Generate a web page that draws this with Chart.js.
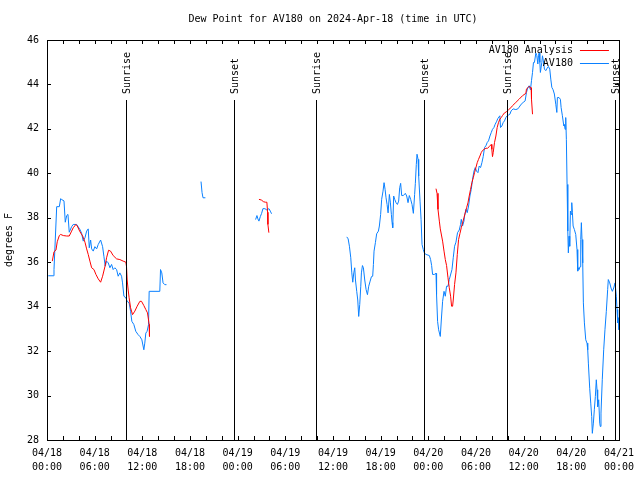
<!DOCTYPE html>
<html>
<head>
<meta charset="utf-8">
<script src="https://cdn.jsdelivr.net/npm/chart.js@4"></script>
<style>
html,body{margin:0;padding:0;background:#fff;}
#c{display:block;}
</style>
</head>
<body>
<canvas id="c" width="640" height="480"></canvas>
<script>
// ---- data (hours since 2024-04-18 00:00 UTC, dew point in °F) ----
const chartTitle = 'Dew Point for AV180 on 2024-Apr-18 (time in UTC)';
const yTitle = 'degrees F';
const xTickLabels = [
  ['04/18','00:00'],['04/18','06:00'],['04/18','12:00'],['04/18','18:00'],
  ['04/19','00:00'],['04/19','06:00'],['04/19','12:00'],['04/19','18:00'],
  ['04/20','00:00'],['04/20','06:00'],['04/20','12:00'],['04/20','18:00'],
  ['04/21','00:00']
];
const eventNames = ['Sunrise','Sunset','Sunrise','Sunset','Sunrise','Sunset'];
const eventHours = [9.93, 23.5, 33.89, 47.52, 57.95, 71.5];

const seriesNames = ['AV180 Analysis', 'AV180'];

const analysisTime = [
  0.67,0.88,1.13,1.29,1.55,1.72,2.05,2.48,2.8,3.1,3.3,3.64,3.81,4.15,4.49,4.78,4.99,5.19,5.4,5.62,
  5.91,6.16,6.45,6.75,7.0,7.29,7.5,7.75,8.0,8.33,8.76,9.17,9.59,9.93,10.01,10.09,10.22,10.34,10.52,10.77,
  11.06,11.35,11.69,11.9,12.19,12.44,12.65,12.86,12.9,
  20,
  26.68,26.98,27.27,27.52,27.68,27.77,27.81,27.93,
  40,
  48.97,49.1,49.22,49.39,49.51,49.8,49.98,50.14,50.3,50.48,50.64,50.81,50.93,51.06,51.14,51.31,51.48,51.65,51.81,51.99,
  52.15,52.31,52.49,52.65,52.82,52.99,53.15,53.32,53.49,53.66,53.82,53.99,54.16,54.32,54.5,54.66,54.83,55.04,55.25,55.46,
  55.67,55.92,56.0,56.08,56.17,56.33,56.51,56.67,56.84,57.01,57.18,57.34,57.59,57.84,58.09,58.39,58.59,59.02,59.44,59.85,
  60.28,60.36,60.69,60.95,60.99,61.12
];
const analysisDew = [
  36.05,36.47,36.55,36.92,37.2,37.25,37.2,37.18,37.18,37.4,37.55,37.7,37.63,37.37,37.18,36.9,36.6,36.35,36.05,35.75,
  35.67,35.45,35.25,35.1,35.37,35.8,36.2,36.54,36.5,36.3,36.15,36.12,36.05,36.0,35.8,35.2,34.75,34.4,33.95,33.64,
  33.8,34.02,34.24,34.24,34.05,33.87,33.72,33.2,32.66,
  null,
  38.83,38.8,38.72,38.7,38.7,38.25,37.7,37.33,
  null,
  39.31,39.1,38.38,37.85,37.5,36.95,36.5,36.12,35.85,35.3,34.85,34.47,34.02,34.02,34.3,35.0,35.52,36.35,37.02,37.3,
  37.55,37.77,38.0,38.22,38.45,38.67,38.98,39.28,39.58,39.8,40.03,40.25,40.48,40.63,40.78,40.93,41.03,41.08,41.13,41.13,
  41.2,41.3,41.08,40.75,40.93,41.38,41.68,42.06,42.29,42.44,42.51,42.6,42.72,42.77,42.86,42.95,43.04,43.19,43.34,43.49,
  43.6,43.79,43.91,43.85,43.34,42.66
];

const obsTime = [
  0.16,0.79,0.88,1.22,1.55,1.72,1.85,2.14,2.3,2.48,2.64,2.8,3.1,3.3,3.73,4.15,4.36,4.56,4.78,4.99,
  5.19,5.32,5.49,5.62,5.82,6.03,6.25,6.45,6.75,7.0,7.16,7.33,7.5,7.71,7.92,8.13,8.33,8.54,8.76,8.96,
  9.17,9.39,9.51,9.68,9.93,10.09,10.34,10.52,10.68,10.93,11.18,11.47,11.69,11.94,12.19,12.31,12.44,12.6,12.78,12.86,
  14.2,14.29,14.45,14.61,14.83,15.04,
  17,
  19.39,19.52,19.64,19.94,
  23,
  26.26,26.43,26.55,26.68,26.85,27.02,27.18,27.43,27.68,27.94,28.11,28.27,
  33,
  37.74,37.91,38.07,38.24,38.37,38.49,38.62,38.74,38.83,38.99,39.12,39.24,39.37,39.5,39.58,39.71,39.83,40.0,40.17,40.34,
  40.5,40.68,40.84,41.0,41.09,41.17,41.34,41.5,41.72,41.84,42.0,42.13,42.3,42.43,42.56,42.68,42.81,42.94,43.1,43.23,
  43.35,43.44,43.52,43.64,43.77,43.94,44.11,44.27,44.4,44.52,44.65,44.86,45.11,45.28,45.45,45.61,45.78,45.95,46.12,46.28,
  46.37,46.49,46.58,46.71,46.79,46.96,47.09,47.21,47.37,47.5,47.71,48.13,48.29,48.42,48.54,48.76,48.97,49.04,49.17,49.3,
  49.51,49.64,49.8,49.98,50.14,50.3,50.48,50.64,50.98,51.14,51.31,51.48,51.68,51.9,52.06,52.15,52.31,52.49,52.56,52.74,
  52.9,53.07,53.24,53.41,53.57,53.75,53.91,54.07,54.25,54.41,54.58,54.75,54.91,55.08,55.25,55.42,55.58,55.76,55.92,56.08,
  56.26,56.42,56.58,56.76,57.01,57.09,57.26,57.42,57.59,57.76,57.93,58.09,58.27,58.43,58.68,59.02,59.27,59.44,59.69,59.94,
  60.19,60.36,60.53,60.69,60.86,60.99,61.12,61.24,61.36,61.54,61.66,61.79,61.87,61.95,62.04,62.11,62.29,62.37,62.49,62.62,
  62.79,62.96,63.12,63.29,63.42,63.55,63.71,63.87,64.05,64.18,64.25,64.46,64.63,64.72,64.88,65.06,65.13,65.22,65.3,65.38,
  65.47,65.56,65.63,65.72,65.8,65.89,65.97,66.06,66.14,66.23,66.39,66.56,66.72,66.81,66.89,66.98,67.1,67.19,67.27,67.35,
  67.44,67.52,67.65,67.82,67.98,68.07,68.15,68.32,68.45,68.57,68.65,68.78,68.9,69.03,69.15,69.24,69.32,69.45,69.58,69.65,
  69.74,69.9,70.08,70.24,70.41,70.58,70.66,70.84,71.0,71.17,71.34,71.51,71.67,71.76,71.84,71.92,72.0
];
const obsDew = [
  35.39,35.39,35.67,38.5,38.5,38.86,38.82,38.76,37.8,38.1,38.15,37.35,37.6,37.7,37.7,37.47,37.3,36.95,37.1,37.4,
  37.5,36.65,37.0,36.6,36.5,36.7,36.6,36.8,37.0,36.7,36.27,35.82,36.05,35.97,35.75,35.9,35.67,35.75,35.67,35.37,
  35.52,35.37,35.07,34.47,34.4,34.24,34.17,33.79,33.34,33.2,32.89,32.74,32.66,32.51,32.06,32.36,32.81,32.89,33.19,34.69,
  34.69,35.67,35.52,35.07,34.99,34.99,
  null,
  39.63,39.13,38.9,38.9,
  null,
  37.92,38.1,37.95,37.85,38.05,38.2,38.41,38.41,38.35,38.41,38.3,38.18,
  null,
  37.14,37.05,36.72,36.2,35.52,35.1,35.52,35.75,35.2,34.69,34.3,33.56,34.1,34.92,35.52,35.85,35.75,35.2,34.77,34.54,
  34.92,35.15,35.35,35.37,35.9,36.5,36.88,37.28,37.4,37.63,38.15,38.83,39.2,39.58,39.28,38.9,38.6,38.22,39.05,38.67,
  38.15,37.78,37.55,38.98,38.83,38.68,38.6,38.75,39.35,39.55,39.0,39.0,39.1,38.98,38.68,39.0,38.83,38.6,38.2,39.05,
  39.55,40.4,40.86,40.63,39.88,38.75,37.93,36.8,36.57,36.42,36.35,36.3,36.12,35.85,35.45,35.45,35.5,34.54,33.34,32.96,
  32.66,33.4,34.24,34.69,34.47,34.92,34.92,35.22,35.67,36.2,36.72,36.9,37.33,37.45,37.7,37.93,37.63,37.85,38.08,38.38,
  38.23,38.53,38.98,39.28,39.73,40.1,40.26,40.1,40.03,40.33,40.26,40.48,40.75,41.16,41.24,41.39,41.46,41.68,41.83,41.98,
  42.06,42.21,42.32,42.47,42.59,42.06,42.13,42.28,42.36,42.51,42.59,42.62,42.66,42.81,42.9,42.87,42.9,42.98,43.11,43.19,
  43.26,43.64,43.86,43.94,43.76,44.17,44.54,44.99,44.99,45.41,45.3,44.92,45.3,45.41,44.99,44.54,44.99,45.29,45.06,44.69,
  44.62,44.73,44.81,44.69,44.24,43.87,43.76,43.57,43.11,42.74,43.41,43.41,43.33,42.96,42.59,42.13,42.2,41.98,42.51,41.53,
  39.5,37.4,36.42,37.17,36.72,38.3,38.15,38.68,38.23,37.63,37.47,37.25,36.57,35.6,35.75,35.67,35.8,37.02,37.78,37.02,
  35.97,34.17,33.27,32.51,32.36,32.06,31.46,30.33,29.66,29.06,28.3,28.76,29.36,29.96,30.71,30.26,29.5,29.81,28.76,28.61,
  29.21,30.71,32.06,32.96,33.79,34.77,35.22,35.07,34.84,34.69,34.84,35.07,34.47,33.87,33.27,33.5,32.96
];

const redColor = '#ff0000';
const blueColor = '#0a80ff';
const FONT = '"DejaVu Sans Mono", "Liberation Mono", monospace';

function toPoints(t, v) { return t.map((h, i) => ({x: h, y: v[i]})); }

const overlay = {
  id: 'overlay',
  afterDatasetsDraw(chart) {
    const {ctx, chartArea: a, scales: {x, y}} = chart;
    ctx.save();
    ctx.strokeStyle = '#000';
    ctx.fillStyle = '#000';
    ctx.lineWidth = 1;
    ctx.font = '10px ' + FONT;
    // sunrise / sunset markers
    eventHours.forEach((h, i) => {
      const px = Math.round(x.getPixelForValue(h)) + 0.5;
      ctx.beginPath();
      ctx.moveTo(px, a.top + 60);
      ctx.lineTo(px, a.bottom);
      ctx.stroke();
      ctx.save();
      ctx.translate(px + 1, a.top + 54);
      ctx.rotate(-Math.PI / 2);
      ctx.textAlign = 'left';
      ctx.textBaseline = 'middle';
      ctx.fillText(eventNames[i], 0, 0);
      ctx.restore();
    });
    // border
    ctx.strokeRect(Math.round(a.left) + 0.5, Math.round(a.top) + 0.5,
                   Math.round(a.right - a.left), Math.round(a.bottom - a.top));
    // inward ticks
    ctx.beginPath();
    for (let h = 0; h <= 72; h += 2) {
      const px = Math.round(x.getPixelForValue(h)) + 0.5;
      ctx.moveTo(px, a.bottom); ctx.lineTo(px, a.bottom - 4);
      ctx.moveTo(px, a.top); ctx.lineTo(px, a.top + 4);
    }
    for (let v = 28; v <= 46; v += 2) {
      const py = Math.round(y.getPixelForValue(v)) + 0.5;
      ctx.moveTo(a.left, py); ctx.lineTo(a.left + 4, py);
      ctx.moveTo(a.right, py); ctx.lineTo(a.right - 4, py);
    }
    ctx.stroke();
    // legend
    ctx.textAlign = 'right';
    ctx.textBaseline = 'middle';
    const ly = [a.top + 10, a.top + 23];
    const lc = [redColor, blueColor];
    seriesNames.forEach((n, i) => {
      ctx.fillStyle = '#000';
      ctx.fillText(n, a.right - 46, ly[i]);
      ctx.strokeStyle = lc[i];
      ctx.beginPath();
      ctx.moveTo(a.right - 39, ly[i] + 0.5);
      ctx.lineTo(a.right - 10, ly[i] + 0.5);
      ctx.stroke();
    });
    // title
    ctx.fillStyle = '#000';
    ctx.textAlign = 'center';
    ctx.fillText(chartTitle, (a.left + a.right) / 2, 19);
    // y title
    ctx.save();
    ctx.translate(9, (a.top + a.bottom) / 2);
    ctx.rotate(-Math.PI / 2);
    ctx.textAlign = 'center';
    ctx.textBaseline = 'middle';
    ctx.fillText(yTitle, 0, 0);
    ctx.restore();
    ctx.restore();
  }
};

new Chart(document.getElementById('c'), {
  type: 'line',
  data: {
    datasets: [
      {label: seriesNames[0], data: toPoints(analysisTime, analysisDew), borderColor: redColor,
       borderWidth: 1, pointRadius: 0, tension: 0, spanGaps: false, fill: false},
      {label: seriesNames[1], data: toPoints(obsTime, obsDew), borderColor: blueColor,
       borderWidth: 1, pointRadius: 0, tension: 0, spanGaps: false, fill: false}
    ]
  },
  options: {
    responsive: false,
    devicePixelRatio: 1,
    animation: false,
    events: [],
    layout: {padding: {left: 0, right: 20, top: 40, bottom: 0}},
    plugins: {legend: {display: false}, title: {display: false}, tooltip: {enabled: false}},
    scales: {
      x: {
        type: 'linear', min: 0, max: 72,
        grid: {display: false, drawTicks: false},
        border: {display: false},
        ticks: {
          stepSize: 6, autoSkip: false, maxRotation: 0, padding: 6, color: '#000',
          font: {family: FONT, size: 10, lineHeight: 1.4},
          callback: (v) => xTickLabels[Math.round(v / 6)]
        },
        afterFit: (s) => { s.height = 40; }
      },
      y: {
        min: 28, max: 46,
        grid: {display: false, drawTicks: false},
        border: {display: false},
        ticks: {stepSize: 2, padding: 8, color: '#000', font: {family: FONT, size: 10}},
        afterFit: (s) => { s.width = 47; }
      }
    }
  },
  plugins: [overlay]
});
</script>
</body>
</html>
